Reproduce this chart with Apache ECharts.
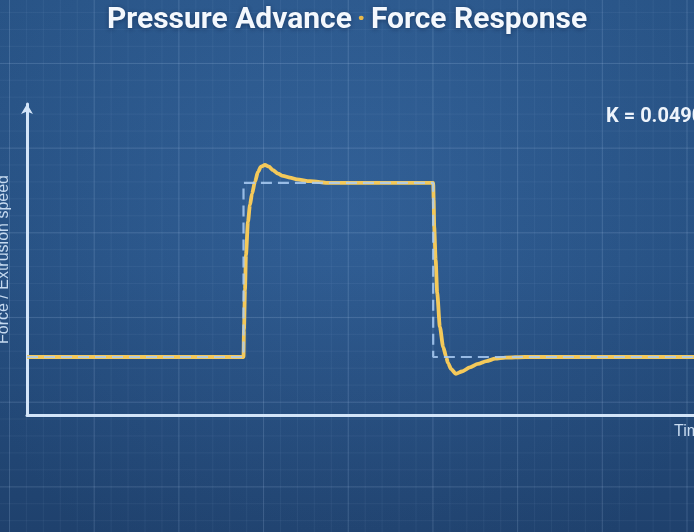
<!DOCTYPE html>
<html>
<head>
<meta charset="utf-8">
<script src="https://cdn.jsdelivr.net/npm/echarts@6/dist/echarts.min.js"></script>
<style>
html,body{margin:0;padding:0;background:#264f84;}
#chart{
  width:694px;height:532px;
  background-color:#2a5990;
  background-image:
    linear-gradient(rgba(200,225,255,0.12) 1px, transparent 1px),
    linear-gradient(90deg, rgba(200,225,255,0.12) 1px, transparent 1px),
    linear-gradient(rgba(200,225,255,0.05) 1px, transparent 1px),
    linear-gradient(90deg, rgba(200,225,255,0.05) 1px, transparent 1px),
    radial-gradient(ellipse at 50% 40%, rgba(255,255,255,0.03), rgba(0,0,0,0.12) 90%),
    linear-gradient(180deg, #2d5e97 0%, #2a5991 50%, #234a7c 100%);
  background-size:84.7px 84.7px,84.7px 84.7px,16.94px 16.94px,16.94px 16.94px,100% 100%,100% 100%;
  background-position:9px 63px,9px 63px,9px 12px,9px 12px,0 0,0 0;
}
</style>
</head>
<body>
<div id="chart"></div>
<script>
// Time axis in arbitrary units (0..100), value axis in arbitrary units
var timeMin = 0, timeMax = 100;
var valueMin = 0, valueMax = 5.36;

// Commanded extrusion speed (ideal step)
var stepTime  = [0, 32.46, 32.46, 60.9, 60.9, 100];
var stepValue = [1, 1, 4, 4, 1, 1];

// Actual force response with pressure advance
var respTime  = [0, 32.46, 32.53, 32.68, 32.83, 33.13, 33.43, 33.73, 34.18, 34.63, 35.08, 35.68, 36.28, 36.88, 37.63, 38.38, 39.43, 40.48, 42.43, 45.4,
                 60.9, 60.97, 61.05, 61.27, 61.5, 61.9, 62.4, 62.85, 63.1, 63.6, 64.3, 65.2, 66.4, 67.6, 68.9, 70.2, 71.7, 74.7, 100];
var respValue = [1, 1, 1.47, 2.16, 2.76, 3.33, 3.62, 3.81, 4.02, 4.19, 4.28, 4.31, 4.28, 4.22, 4.16, 4.12, 4.09, 4.06, 4.03, 4.0,
                 4.0, 3.71, 3.24, 2.67, 2.1, 1.52, 1.17, 1.0, 0.9, 0.79, 0.71, 0.75, 0.82, 0.88, 0.93, 0.97, 0.99, 1.0, 1.0];

var titleLeft = 'Pressure Advance';
var titleRight = 'Force Response';
var xName = 'Time';
var yName = 'Force / Extrusion speed';
var kLabel = 'K = 0.0490';

function zip(a, b){ return a.map(function(v,i){ return [v, b[i]]; }); }

var chart = echarts.init(document.getElementById('chart'));
chart.setOption({
  backgroundColor: 'transparent',
  animation: false,
  title: {
    left: 'center', top: 0,
    text: '{t|' + titleLeft + '} {d|·} {t|' + titleRight + '}',
    textStyle: {
      rich: {
        t: {fontFamily: 'Roboto', fontWeight: 'bold', fontSize: 30, color: '#f4f8fd',
            textShadowColor: 'rgba(0,20,50,0.45)', textShadowBlur: 4, textShadowOffsetY: 1},
        d: {fontFamily: 'Roboto', fontWeight: 'bold', fontSize: 30, color: '#e9b949'}
      }
    }
  },
  graphic: [{
    type: 'text', left: 606, top: 107,
    style: {text: kLabel, fontFamily: 'Roboto', fontWeight: 'bold', fontSize: 20, fill: '#eef4fb'}
  }],
  grid: {left: 27, right: 0, top: 104, bottom: 117, containLabel: false, outerBoundsMode: 'none'},
  xAxis: {
    type: 'value', min: timeMin, max: timeMax,
    name: xName, nameLocation: 'end', nameGap: -20,
    nameTextStyle: {fontFamily: 'Liberation Sans', fontSize: 16, color: '#c9dcf1', align: 'left', verticalAlign: 'top', padding: [9,0,0,0]},
    axisLine: {show: true, lineStyle: {color: '#d3e5f9', width: 3}},
    axisTick: {show: false}, axisLabel: {show: false}, splitLine: {show: false}
  },
  yAxis: {
    type: 'value', min: valueMin, max: valueMax,
    name: yName, nameLocation: 'middle', nameGap: 15,
    nameTextStyle: {fontFamily: 'Liberation Sans', fontSize: 16, color: '#c5d9ef'},
    axisLine: {show: true, symbol: ['none', 'arrow'], symbolSize: [9, 10], lineStyle: {color: '#d3e5f9', width: 3}},
    axisTick: {show: false}, axisLabel: {show: false}, splitLine: {show: false}
  },
  series: [{
    type: 'line', name: 'Response', data: zip(respTime, respValue),
    showSymbol: false, smooth: 0.25, smoothMonotone: 'x',
    lineStyle: {color: '#f4c95a', width: 3.8}, z: 3
  }, {
    type: 'line', name: 'Command', data: zip(stepTime, stepValue),
    showSymbol: false,
    lineStyle: {color: 'rgba(170,204,245,0.85)', width: 2.2, type: [11, 6]}, z: 4
  }]
});
</script>
</body>
</html>
